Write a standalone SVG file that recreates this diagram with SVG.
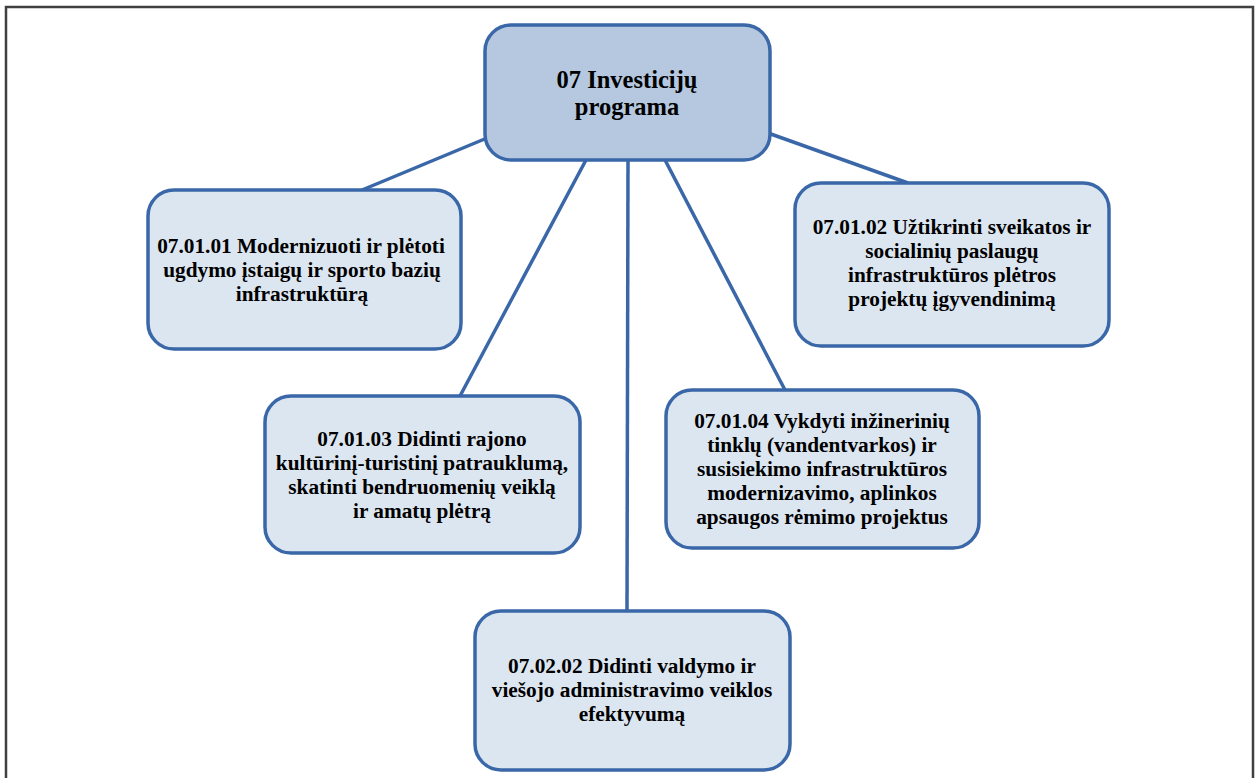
<svg xmlns="http://www.w3.org/2000/svg" width="1259" height="778" viewBox="0 0 1259 778">
<style>
.frame{fill:none;stroke:#404040;stroke-width:2.5}
.box{fill:#DCE6F1;stroke:#3A67A8;stroke-width:3.5}
.main{fill:#B5C8DF;stroke:#3A67A8;stroke-width:3.5}
.con line{stroke:#3A67A8;stroke-width:3.5}
text{font-family:"Liberation Serif","Times New Roman",serif;font-weight:bold;fill:#000;text-anchor:middle;font-size:21.3px}
.mt{font-size:24.5px}
</style>
<rect width="1259" height="778" fill="#fff"/>
<path class="frame" d="M6,780 V7 H1253 V780"/>
<g class="con">
<line x1="487" y1="138" x2="362" y2="190"/>
<line x1="768" y1="133" x2="908" y2="183"/>
<line x1="586" y1="160" x2="460" y2="396"/>
<line x1="628" y1="160" x2="627" y2="611"/>
<line x1="665" y1="160" x2="785" y2="390"/>
</g>
<g id="n0"><rect class="main" x="485" y="25" width="285" height="135" rx="26"/>
<text class="mt" x="627" y="88">07 Investicijų</text><text class="mt" x="627" y="115">programa</text></g>
<g id="n1"><rect class="box" x="148" y="190" width="313" height="159" rx="26"/>
<text x="301" y="253">07.01.01 Modernizuoti ir plėtoti</text><text x="302" y="277">ugdymo įstaigų ir sporto bazių</text><text x="302" y="301">infrastruktūrą</text></g>
<g id="n2"><rect class="box" x="795" y="183" width="314" height="163" rx="26"/>
<text x="952" y="234">07.01.02 Užtikrinti sveikatos ir</text><text x="952" y="258">socialinių paslaugų</text><text x="952" y="282">infrastruktūros plėtros</text><text x="952" y="306">projektų įgyvendinimą</text></g>
<g id="n3"><rect class="box" x="265" y="396" width="315" height="157" rx="26"/>
<text x="422" y="446">07.01.03 Didinti rajono</text><text x="422" y="470">kultūrinį-turistinį patrauklumą,</text><text x="422" y="494">skatinti bendruomenių veiklą</text><text x="422" y="518">ir amatų plėtrą</text></g>
<g id="n4"><rect class="box" x="666" y="390" width="313" height="158" rx="26"/>
<text x="822" y="428">07.01.04 Vykdyti inžinerinių</text><text x="822" y="452">tinklų (vandentvarkos) ir</text><text x="822" y="476">susisiekimo infrastruktūros</text><text x="822" y="500">modernizavimo, aplinkos</text><text x="822" y="524">apsaugos rėmimo projektus</text></g>
<g id="n5"><rect class="box" x="475" y="611" width="315" height="159" rx="26"/>
<text x="632" y="673">07.02.02 Didinti valdymo ir</text><text x="632" y="697">viešojo administravimo veiklos</text><text x="632" y="721">efektyvumą</text></g>
</svg>
